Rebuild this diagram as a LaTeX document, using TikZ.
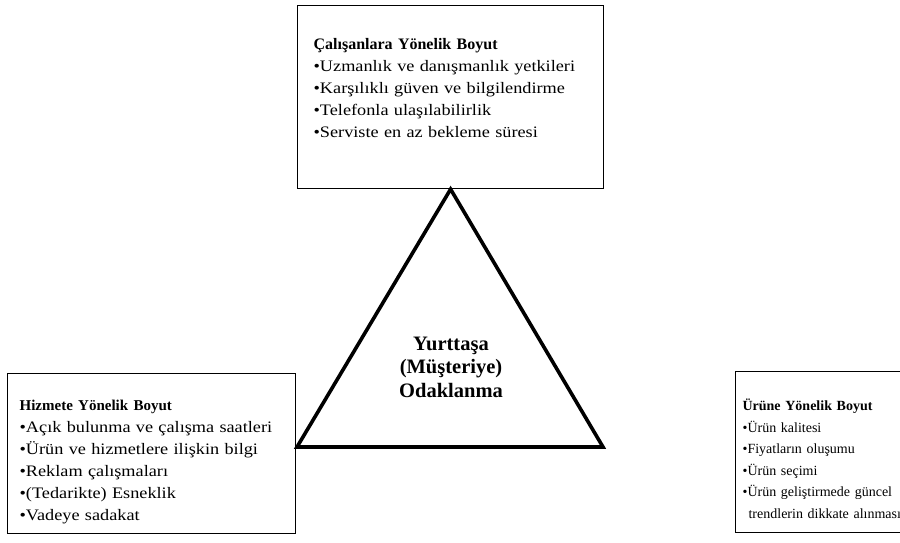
\documentclass[tikz,border=0pt]{standalone}
\usepackage{fontspec}
\setmainfont{Liberation Serif}[UprightFeatures={FakeStretch=1.14}]
\newfontfamily\plainserif{Liberation Serif}
\begin{document}
\begin{tikzpicture}[x=1pt, y=-1pt, line join=miter]
  \tikzset{
    dimbox/.style={draw, line width=1.2pt, anchor=north west, align=left,
      inner ysep=0pt, font=\fontsize{16}{22}\selectfont},
    focustext/.style={align=center, font=\bfseries\fontsize{20.5}{23.5}\selectfont}
  }
  \useasboundingbox (0,0) rectangle (900,543);
  % the three dimensions
  \node[dimbox, inner xsep=16pt, text width=274pt, text height=44pt, text depth=139pt]
    (worker) at (297,5) {{\bfseries\fontsize{16}{22}\selectfont Çalışanlara Yönelik Boyut}\\
      •Uzmanlık ve danışmanlık yetkileri\\
      •Karşılıklı güven ve bilgilendirme\\
      •Telefonla ulaşılabilirlik\\
      •Serviste en az bekleme süresi};
  \node[dimbox, inner xsep=12pt, text width=264pt, text height=37pt, text depth=123pt]
    (service) at (7,373) {{\bfseries\fontsize{15}{22}\selectfont Hizmete Yönelik Boyut}\\
      •Açık bulunma ve çalışma saatleri\\
      •Ürün ve hizmetlere ilişkin bilgi\\
      •Reklam çalışmaları\\
      •(Tedarikte) Esneklik\\
      •Vadeye sadakat};
  \node[dimbox, inner xsep=7pt, text width=200pt, text height=39pt, text depth=122pt,
      font=\plainserif\fontsize{14}{21.5}\selectfont]
    (product) at (735,371) {{\bfseries Ürüne Yönelik Boyut}\\
      •Ürün kalitesi\\
      •Fiyatların oluşumu\\
      •Ürün seçimi\\
      •Ürün geliştirmede güncel\\
      \hspace*{6pt}trendlerin dikkate alınması};
  % triangle
  \coordinate (apex) at (worker.south);
  \coordinate (baseL) at (297,447);
  \coordinate (baseR) at (603,447);
  \draw[line width=3.6pt] (apex) -- (baseR) -- (baseL) -- cycle;
  \node[focustext] (focus) at (451,367) {Yurttaşa\\(Müşteriye)\\Odaklanma};
\end{tikzpicture}
\end{document}
